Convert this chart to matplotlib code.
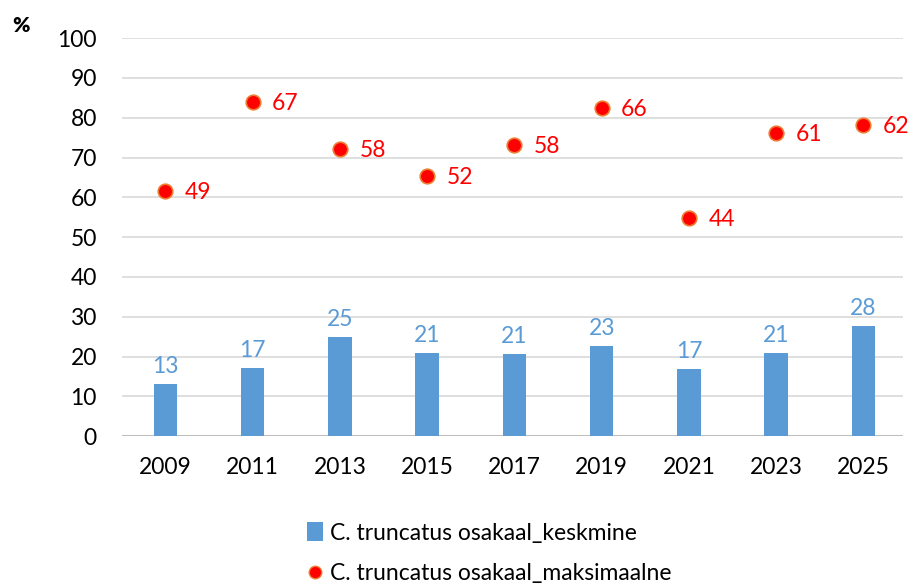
import matplotlib
matplotlib.use('Agg')
from matplotlib import pyplot as plt
from matplotlib.lines import Line2D
from matplotlib.patches import Patch

plt.rcParams['font.family'] = ['Lato', 'DejaVu Sans']

aastad = ['2009', '2011', '2013', '2015', '2017', '2019', '2021', '2023', '2025']
keskmine = [13.1, 17.1, 24.9, 20.8, 20.6, 22.6, 16.9, 20.9, 27.6]
keskmine_sildid = [13, 17, 25, 21, 21, 23, 17, 21, 28]
maksimaalne = [61.6, 83.9, 72.1, 65.3, 73.1, 82.4, 54.8, 76.1, 78.1]
maksimaalne_sildid = [49, 67, 58, 52, 58, 66, 44, 61, 62]

sinine = '#5B9BD5'
punane = '#FF0000'

fig = plt.figure(figsize=(9.09, 5.87), dpi=100)
ax = fig.add_axes([0.134, 0.257, 0.859, 0.678])

x = list(range(len(aastad)))
ax.bar(x, keskmine, width=0.27, color=sinine, zorder=2)
ax.scatter(x, maksimaalne, s=110, color=punane, edgecolors='#ED7D31',
           linewidths=1.2, zorder=3)

for i in x:
    ax.annotate(str(keskmine_sildid[i]), (i, keskmine[i]), xytext=(0, 5),
                textcoords='offset points', ha='center', va='bottom',
                color=sinine, fontsize=16.5)
    ax.annotate(str(maksimaalne_sildid[i]), (i, maksimaalne[i]), xytext=(14, -1),
                textcoords='offset points', ha='left', va='center',
                color=punane, fontsize=16.5)

ax.set_xlim(-0.5, 8.45)
ax.set_ylim(0, 100)
ax.set_yticks(range(0, 101, 10))
ax.set_xticks(x)
ax.set_xticklabels(aastad)
ax.tick_params(length=0, labelsize=16.5)
ax.tick_params(axis='y', pad=18)
ax.tick_params(axis='x', pad=15)
ax.yaxis.grid(True, color='#D9D9D9', linewidth=1.2, zorder=0)
ax.set_axisbelow(True)
for s in ax.spines.values():
    s.set_visible(False)
ax.axhline(0, color='#BFBFBF', linewidth=1.5, zorder=1)

fig.text(0.014, 0.957, '%', fontsize=15, fontweight='heavy', ha='left', va='center')

kasitsejad = [
    Patch(facecolor=sinine, label='C. truncatus osakaal_keskmine'),
    Line2D([], [], marker='o', linestyle='none', markerfacecolor=punane,
           markeredgecolor='#ED7D31', markersize=9,
           label='C. truncatus osakaal_maksimaalne'),
]
fig.legend(handles=kasitsejad, loc='upper left', bbox_to_anchor=(0.325, 0.13),
           frameon=False, fontsize=16.5, handlelength=0.7, handleheight=0.9,
           handletextpad=0.3, labelspacing=0.85, borderpad=0)

fig.savefig('out.png', dpi=100)
